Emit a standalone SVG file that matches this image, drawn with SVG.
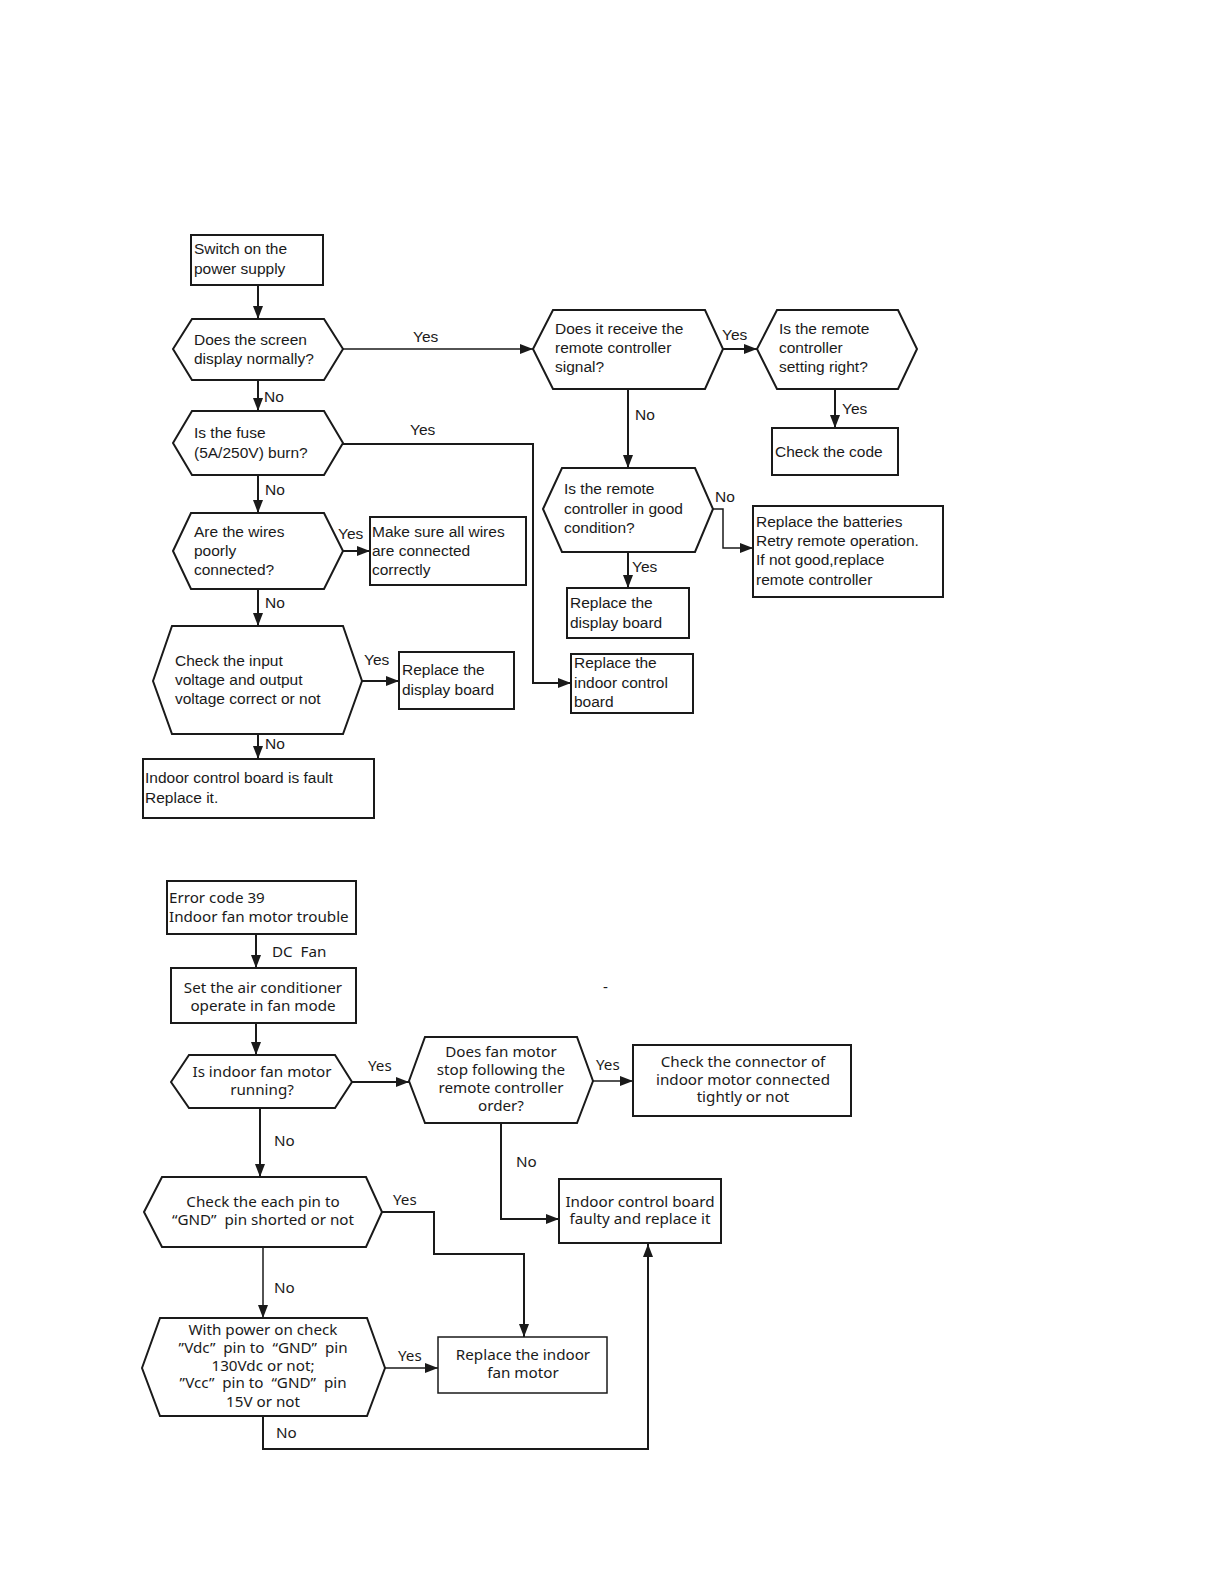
<svg xmlns="http://www.w3.org/2000/svg" width="1224" height="1584" viewBox="0 0 1224 1584">
<style>
.box{fill:#fff;stroke:#1a1a1a;stroke-width:2}
.t{font-family:"Liberation Sans",Arial,sans-serif;font-size:15.5px;fill:#1a1a1a}
.b{font-family:"Noto Sans",sans-serif;font-size:15.2px;fill:#1a1a1a;text-anchor:middle;white-space:pre}
.bl{font-family:"Noto Sans",sans-serif;font-size:15.2px;fill:#1a1a1a;white-space:pre}
.c{fill:none;stroke:#1a1a1a;stroke-width:2}
.c1{fill:none;stroke:#1a1a1a;stroke-width:1.5}
</style>
<defs>
<marker id="ah" markerWidth="13" markerHeight="10" refX="13" refY="5" orient="auto" markerUnits="userSpaceOnUse"><path d="M0,0 L13,5 L0,10 z" fill="#1a1a1a"/></marker>
</defs>
<rect width="1224" height="1584" fill="#fff"/>

<g id="connectors">
<line class="c" x1="258" y1="285" x2="258" y2="319" marker-end="url(#ah)"/>
<line class="c1" x1="343" y1="349" x2="533" y2="349" marker-end="url(#ah)"/>
<line class="c" x1="258" y1="380" x2="258" y2="411" marker-end="url(#ah)"/>
<polyline class="c" points="343,444 533,444 533,683 571,683" marker-end="url(#ah)"/>
<line class="c" x1="258" y1="475" x2="258" y2="513" marker-end="url(#ah)"/>
<line class="c" x1="343" y1="551" x2="370" y2="551" marker-end="url(#ah)"/>
<line class="c" x1="258" y1="589" x2="258" y2="626" marker-end="url(#ah)"/>
<line class="c" x1="362" y1="681" x2="399" y2="681" marker-end="url(#ah)"/>
<line class="c" x1="258" y1="734" x2="258" y2="759" marker-end="url(#ah)"/>
<line class="c" x1="723" y1="349" x2="757" y2="349" marker-end="url(#ah)"/>
<line class="c" x1="835" y1="389" x2="835" y2="428" marker-end="url(#ah)"/>
<line class="c" x1="628" y1="389" x2="628" y2="468" marker-end="url(#ah)"/>
<polyline class="c1" points="713,509 723,509 723,548 753,548" marker-end="url(#ah)"/>
<line class="c" x1="628" y1="552" x2="628" y2="588" marker-end="url(#ah)"/>

<line class="c" x1="256" y1="934" x2="256" y2="968" marker-end="url(#ah)"/>
<line class="c" x1="256" y1="1023" x2="256" y2="1055" marker-end="url(#ah)"/>
<line class="c" x1="352" y1="1082" x2="409" y2="1082" marker-end="url(#ah)"/>
<line class="c1" x1="593" y1="1081" x2="633" y2="1081" marker-end="url(#ah)"/>
<polyline class="c" points="501,1123 501,1219 559,1219" marker-end="url(#ah)"/>
<line class="c" x1="260" y1="1108" x2="260" y2="1177" marker-end="url(#ah)"/>
<polyline class="c" points="382,1212 434,1212 434,1254 524,1254 524,1337" marker-end="url(#ah)"/>
<line class="c1" x1="263" y1="1247" x2="263" y2="1318" marker-end="url(#ah)"/>
<line class="c1" x1="385" y1="1368" x2="438" y2="1368" marker-end="url(#ah)"/>
<polyline class="c" points="263,1416 263,1449 648,1449 648,1244" marker-end="url(#ah)"/>
</g>

<g id="labels">
<text class="t" x="413" y="342">Yes</text>
<text class="t" x="264" y="402">No</text>
<text class="t" x="410" y="435">Yes</text>
<text class="t" x="265" y="495">No</text>
<text class="t" x="338" y="539">Yes</text>
<text class="t" x="265" y="608">No</text>
<text class="t" x="364" y="665">Yes</text>
<text class="t" x="265" y="749">No</text>
<text class="t" x="722" y="340">Yes</text>
<text class="t" x="842" y="414">Yes</text>
<text class="t" x="635" y="420">No</text>
<text class="t" x="715" y="502">No</text>
<text class="t" x="632" y="572">Yes</text>

<text class="bl" x="272" y="957">DC  Fan</text>
<text class="bl" x="368" y="1071">Yes</text>
<text class="bl" x="596" y="1070">Yes</text>
<text class="bl" x="516" y="1167">No</text>
<text class="bl" x="274" y="1146">No</text>
<text class="bl" x="393" y="1205">Yes</text>
<text class="bl" x="274" y="1293">No</text>
<text class="bl" x="398" y="1361">Yes</text>
<text class="bl" x="276" y="1438">No</text>
<text class="bl" x="603" y="992">-</text>
</g>

<g id="n1"><rect class="box" x="191" y="235" width="132" height="50"/>
<text class="t" x="194" y="254">Switch on the</text><text class="t" x="194" y="274">power supply</text></g>

<g id="n2"><polygon class="box" points="173,349 192,319 324,319 343,349 324,380 192,380"/>
<text class="t" x="194" y="345">Does the screen</text><text class="t" x="194" y="364">display normally?</text></g>

<g id="n3"><polygon class="box" points="173,443 192,411 324,411 343,443 324,475 192,475"/>
<text class="t" x="194" y="438">Is the fuse</text><text class="t" x="194" y="458">(5A/250V) burn?</text></g>

<g id="n4"><polygon class="box" points="173,551 191,513 324,513 343,551 324,589 191,589"/>
<text class="t" x="194" y="537">Are the wires</text><text class="t" x="194" y="556">poorly</text><text class="t" x="194" y="575">connected?</text></g>

<g id="n5"><rect class="box" x="370" y="517" width="156" height="68"/>
<text class="t" x="372" y="537">Make sure all wires</text><text class="t" x="372" y="556">are connected</text><text class="t" x="372" y="575">correctly</text></g>

<g id="n6"><polygon class="box" points="153,681 172,626 343,626 362,681 343,734 172,734"/>
<text class="t" x="175" y="666">Check the input</text><text class="t" x="175" y="685">voltage and output</text><text class="t" x="175" y="704">voltage correct or not</text></g>

<g id="n7"><rect class="box" x="399" y="652" width="115" height="57"/>
<text class="t" x="402" y="675">Replace the</text><text class="t" x="402" y="695">display board</text></g>

<g id="n8"><rect class="box" x="143" y="759" width="231" height="59"/>
<text class="t" x="145" y="783">Indoor control board is fault</text><text class="t" x="145" y="803">Replace it.</text></g>

<g id="n9"><polygon class="box" points="533,349 553,310 705,310 723,349 705,389 553,389"/>
<text class="t" x="555" y="334">Does it receive the</text><text class="t" x="555" y="353">remote controller</text><text class="t" x="555" y="372">signal?</text></g>

<g id="n10"><polygon class="box" points="757,349 777,310 898,310 917,349 898,389 777,389"/>
<text class="t" x="779" y="334">Is the remote</text><text class="t" x="779" y="353">controller</text><text class="t" x="779" y="372">setting right?</text></g>

<g id="n11"><rect class="box" x="772" y="428" width="126" height="47"/>
<text class="t" x="775" y="457">Check the code</text></g>

<g id="n12"><polygon class="box" points="543,509 562,468 695,468 713,509 695,552 562,552"/>
<text class="t" x="564" y="494">Is the remote</text><text class="t" x="564" y="514">controller in good</text><text class="t" x="564" y="533">condition?</text></g>

<g id="n13"><rect class="box" x="753" y="506" width="190" height="91"/>
<text class="t" x="756" y="527">Replace the batteries</text><text class="t" x="756" y="546">Retry remote operation.</text><text class="t" x="756" y="565">If not good,replace</text><text class="t" x="756" y="585">remote controller</text></g>

<g id="n14"><rect class="box" x="567" y="588" width="122" height="50"/>
<text class="t" x="570" y="608">Replace the</text><text class="t" x="570" y="628">display board</text></g>

<g id="n15"><rect class="box" x="571" y="654" width="122" height="59"/>
<text class="t" x="574" y="668">Replace the</text><text class="t" x="574" y="688">indoor control</text><text class="t" x="574" y="707">board</text></g>

<g id="n16"><rect class="box" x="167" y="881" width="189" height="53"/>
<text class="bl" x="169" y="903">Error code 39</text><text class="bl" x="169" y="922">Indoor fan motor trouble</text></g>

<g id="n17"><rect class="box" x="171" y="968" width="185" height="55"/>
<text class="b" x="263" y="993">Set the air conditioner</text><text class="b" x="263" y="1011">operate in fan mode</text></g>

<g id="n18"><polygon class="box" points="171,1082 189,1055 335,1055 352,1082 335,1108 189,1108"/>
<text class="b" x="262" y="1077">Is indoor fan motor</text><text class="b" x="262" y="1095">running?</text></g>

<g id="n19"><polygon class="box" points="409,1081 425,1037 577,1037 593,1081 577,1123 425,1123"/>
<text class="b" x="501" y="1057">Does fan motor</text><text class="b" x="501" y="1075">stop following the</text><text class="b" x="501" y="1093">remote controller</text><text class="b" x="501" y="1111">order?</text></g>

<g id="n20"><rect class="box" x="633" y="1045" width="218" height="71"/>
<text class="b" x="743" y="1067">Check the connector of</text><text class="b" x="743" y="1085">indoor motor connected</text><text class="b" x="743" y="1102">tightly or not</text></g>

<g id="n21"><rect class="box" x="559" y="1179" width="162" height="64"/>
<text class="b" x="640" y="1207">Indoor control board</text><text class="b" x="640" y="1224">faulty and replace it</text></g>

<g id="n22"><polygon class="box" points="144,1212 162,1177 366,1177 382,1212 366,1247 162,1247"/>
<text class="b" x="263" y="1207">Check the each pin to</text><text class="b" x="263" y="1225">“GND”  pin shorted or not</text></g>

<g id="n23"><polygon class="box" points="142,1368 160,1318 367,1318 385,1368 367,1416 160,1416"/>
<text class="b" x="263" y="1335">With power on check</text><text class="b" x="263" y="1353">”Vdc”  pin to  “GND”  pin</text><text class="b" x="263" y="1371">130Vdc or not;</text><text class="b" x="263" y="1388">”Vcc”  pin to  “GND”  pin</text><text class="b" x="263" y="1407">15V or not</text></g>

<g id="n24"><rect class="box" x="438" y="1337" width="169" height="56" style="stroke-width:1.5"/>
<text class="b" x="523" y="1360">Replace the indoor</text><text class="b" x="523" y="1378">fan motor</text></g>
</svg>
